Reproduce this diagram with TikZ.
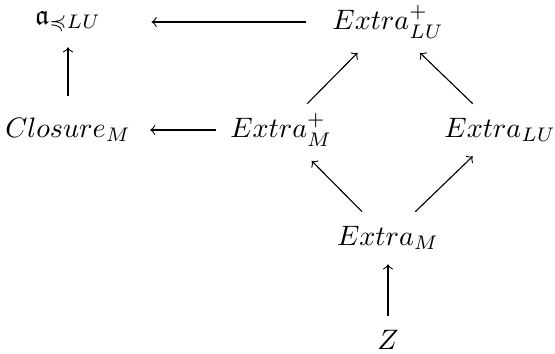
\documentclass[tikz,border=0pt]{standalone}
\usepackage{mathtools,amssymb}
\usepackage{tikz}
\usetikzlibrary{positioning}

\begin{document}
\begin{tikzpicture}[obj/.style={inner sep=5pt}, >=to, node distance=1.35cm]
      \useasboundingbox (-0.85,0.275) rectangle (6.0875,-4.1375);
      \node[obj] (frak) {$\mathfrak{a}_{\preccurlyeq LU}$};
      \node[obj, below of=frak] (closure) {$Closure_M$};
      \node[obj, right of=frak, xshift=2.65cm] (extraLUp) {$Extra^+_{LU}$};
      \node[obj, below of=extraLUp, xshift=-1.335cm] (extraMp) {$Extra^+_M$};
      \node[obj, below of=extraLUp, xshift=1.4cm] (extraLU) {$Extra_{LU}$};
      \node[obj, below of=extraLUp, yshift=-1.35cm] (extraM) {$Extra_M$};
      \node[obj, below of=extraM, yshift=0.075cm] (z) {$Z$};
      \draw[->, shorten <=0.15cm, shorten >=0.45cm] (extraLUp) -- (frak);
      \draw[->, shorten <=0.09cm] (closure) -- (frak);
      \draw[->, shorten >=0.06cm] (extraMp) -- (closure);
      \draw[->, shorten <=-0.08cm] (extraMp) -- (extraLUp);
      \draw[->] (extraLU) -- (extraLUp);
      \draw[->] (extraM) -- (extraMp);
      \draw[->] (extraM) -- (extraLU);
      \draw[->] (z) -- (extraM);
    \end{tikzpicture}
\end{document}
